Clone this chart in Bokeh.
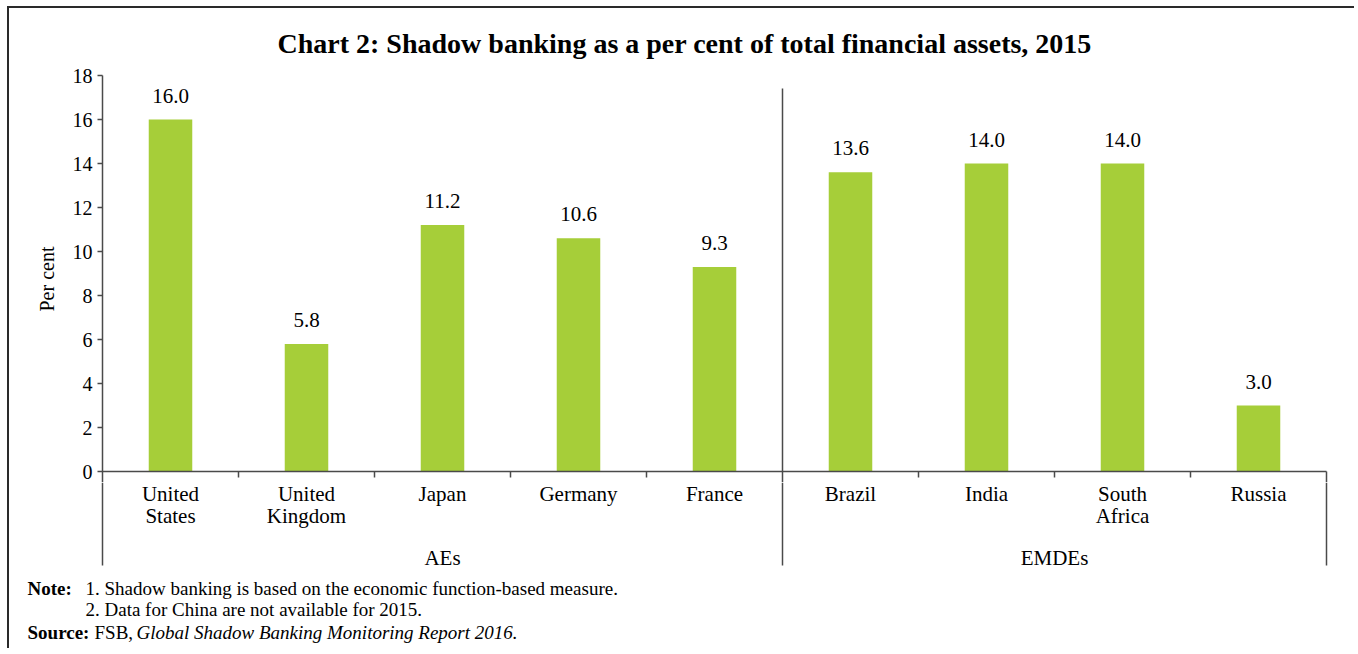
from bokeh.plotting import figure
from bokeh.layouts import column
from bokeh.models import Range1d, FixedTicker, ColumnDataSource, LabelSet
from bokeh.core.properties import value
from bokeh.embed import file_html
from bokeh.resources import INLINE

# ---------------- data ----------------
countries = ["United States", "United Kingdom", "Japan", "Germany", "France",
             "Brazil", "India", "South Africa", "Russia"]
country_labels = ["United\nStates", "United\nKingdom", "Japan", "Germany", "France",
                  "Brazil", "India", "South\nAfrica", "Russia"]
groups = ["AEs", "EMDEs"]
group_sizes = [5, 4]
values = [16.0, 5.8, 11.2, 10.6, 9.3, 13.6, 14.0, 14.0, 3.0]
y_ticks = [0, 2, 4, 6, 8, 10, 12, 14, 16, 18]

title_text = "Chart 2: Shadow banking as a per cent of total financial assets, 2015"
y_label = "Per cent"
note_head = "Note:"
note_1 = "1. Shadow banking is based on the economic function-based measure."
note_2 = "2. Data for China are not available for 2015."
source_head = "Source:"
source_1 = "FSB,"
source_2 = "Global Shadow Banking Monitoring Report 2016."

FONT = "Liberation Serif"
GREEN = "#a6ce39"
AXIS = "#4a4a4a"

# ---------------- layout geometry (page pixels) ----------------
OX, OY = 9, 8                 # content origin inside the border
W = 1347                      # content width
FL, FR = 102, 1330            # frame left / right (page x)
FT, FB = 75, 482              # frame top / bottom (page y)
ZERO_Y = 471                  # page y of value 0
SLOT = 136                    # px per category
P_H = FB - OY                 # main figure height
END_Y = 650
N_H = END_Y - FB              # lower figure height
LINE_END = 565                # page y where separators end

n = len(countries)
centers = [i + 0.5 for i in range(n)]
group_edges = [0]
for s in group_sizes:
    group_edges.append(group_edges[-1] + s)
group_centers = [(group_edges[i] + group_edges[i + 1]) / 2 for i in range(len(groups))]
inner_ticks = [i for i in range(1, n) if i not in group_edges]
ppu = (ZERO_Y - FT) / 18.0    # px per y unit
y_bottom = -(FB - ZERO_Y) / ppu

# ---------------- main chart ----------------
p = figure(width=W, height=P_H,
           x_range=Range1d(0, (FR - FL) / SLOT),
           y_range=Range1d(y_bottom, 18),
           output_backend="svg", toolbar_location=None,
           x_axis_location=None,
           min_border_left=FL - OX, min_border_right=W - (FR - OX),
           min_border_top=FT - OY, min_border_bottom=0)
p.outline_line_color = None
p.xgrid.visible = False
p.ygrid.visible = False
p.background_fill_color = "white"
p.border_fill_color = "white"

p.title.text = title_text
p.title.align = "left"
p.title.offset = 175
p.title.text_font = FONT
p.title.text_font_size = "28px"
p.title.text_font_style = "bold"
p.title.text_color = "black"
p.title.standoff = 34

ya = p.yaxis[0]
ya.ticker = FixedTicker(ticks=y_ticks)
ya.axis_label = y_label
ya.axis_label_text_font = FONT
ya.axis_label_text_font_style = "normal"
ya.axis_label_text_font_size = "20px"
ya.axis_label_text_color = "black"
ya.axis_label_standoff = 12
ya.major_label_text_font = FONT
ya.major_label_text_font_size = "20px"
ya.major_label_text_color = "black"
ya.major_label_standoff = 5
ya.major_tick_in = 0
ya.major_tick_out = 5
ya.minor_tick_line_color = None
ya.axis_line_color = AXIS
ya.axis_line_width = 1.5
ya.major_tick_line_color = AXIS
ya.major_tick_line_width = 1.5

src = ColumnDataSource(dict(x=centers, country=countries, value=values,
                            label=[f"{v:.1f}" for v in values]))
p.vbar(x="x", top="value", width=0.32, source=src, fill_color=GREEN, line_color=None)
p.add_layout(LabelSet(x="x", y="value", text="label", source=src,
                      y_offset=17, text_align="center", text_baseline="alphabetic",
                      text_font=FONT, text_font_size="21px", text_color="black"))

# category axis line, boundary ticks and group separators inside the plot
p.segment(x0=[group_edges[0]], x1=[group_edges[-1]], y0=[0], y1=[0],
          line_color=AXIS, line_width=1.5)
p.segment(x0=inner_ticks, x1=inner_ticks, y0=0, y1=-6 / ppu,
          line_color=AXIS, line_width=1.5)
p.segment(x0=[group_edges[1]], x1=[group_edges[1]], y0=[y_bottom], y1=[(ZERO_Y - 88) / ppu],
          line_color=AXIS, line_width=1.5)
p.segment(x0=[group_edges[-1]], x1=[group_edges[-1]], y0=[y_bottom], y1=[0],
          line_color=AXIS, line_width=1.5)

# ---------------- category labels, separators and notes ----------------
nf = figure(width=W, height=N_H,
            x_range=Range1d((OX - FL) / SLOT, (OX + W - FL) / SLOT),
            y_range=Range1d(END_Y, FB),
            output_backend="svg", toolbar_location=None,
            x_axis_location=None, y_axis_location=None,
            min_border_left=0, min_border_right=0, min_border_top=0, min_border_bottom=0)
try:
    nf.frame_align = False
except Exception:
    pass
nf.extra_x_ranges = {"px": Range1d(OX, OX + W)}
nf.outline_line_color = None
nf.grid.visible = False
nf.background_fill_color = "white"
nf.border_fill_color = "white"

nf.segment(x0=group_edges, x1=group_edges, y0=FB, y1=LINE_END,
           line_color=AXIS, line_width=1.5)

lab_src = ColumnDataSource(dict(x=centers, label=country_labels))
nf.text(x="x", y=481, text="label", source=lab_src, text_align="center",
        text_baseline="top", text_font=value(FONT), text_font_size="21px",
        text_line_height=0.95, text_color="black")
grp_src = ColumnDataSource(dict(x=group_centers, label=groups))
nf.text(x="x", y=557, text="label", source=grp_src, text_align="center",
        text_baseline="alphabetic", text_font=value(FONT), text_font_size="21px",
        text_color="black")

def note(x, y, text, style="normal"):
    nf.text(x=[x], y=[y], text=[text], x_range_name="px",
            text_font=value(FONT), text_font_size="19px", text_font_style=style,
            text_color="black", text_baseline="alphabetic", text_align="left")

note(27, 588, note_head, "bold")
note(85, 588, note_1)
note(85, 609, note_2)
note(27, 632, source_head, "bold")
note(94, 632, source_1)
note(136, 632, source_2, "italic")

root = column(p, nf, margin=(OY, 0, 0, OX),
              styles={"box-shadow": "-2px -2px 0 0 #2a2a2a", "overflow": "visible"})

open("out.html", "w").write(file_html(root, INLINE))
